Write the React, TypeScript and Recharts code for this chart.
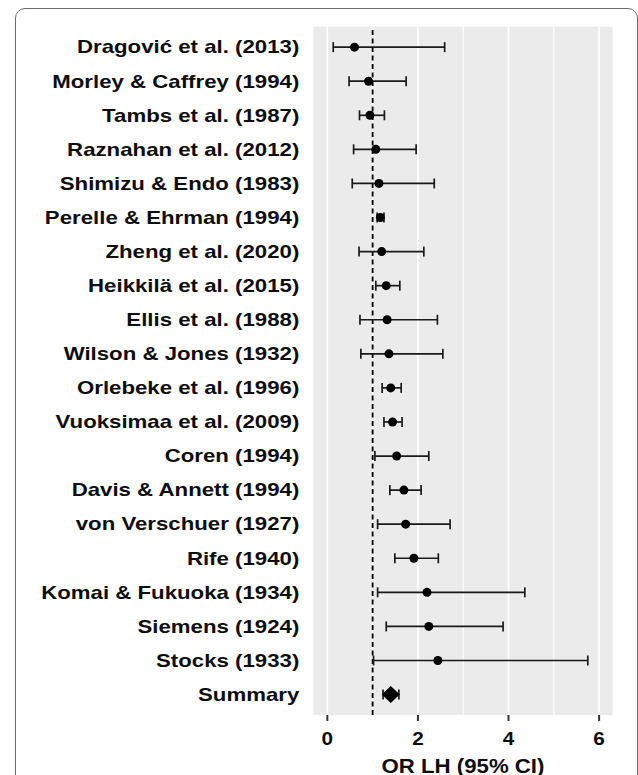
import { ScatterChart, Scatter, XAxis, YAxis, ErrorBar, CartesianGrid, ReferenceLine, Label } from 'recharts'

const studies = [
  'Dragović et al. (2013)', 'Morley & Caffrey (1994)', 'Tambs et al. (1987)', 'Raznahan et al. (2012)',
  'Shimizu & Endo (1983)', 'Perelle & Ehrman (1994)', 'Zheng et al. (2020)', 'Heikkilä et al. (2015)',
  'Ellis et al. (1988)', 'Wilson & Jones (1932)', 'Orlebeke et al. (1996)', 'Vuoksimaa et al. (2009)',
  'Coren (1994)', 'Davis & Annett (1994)', 'von Verschuer (1927)', 'Rife (1940)',
  'Komai & Fukuoka (1934)', 'Siemens (1924)', 'Stocks (1933)',
]
const orValues = [0.6, 0.91, 0.94, 1.07, 1.14, 1.17, 1.2, 1.3, 1.32, 1.36, 1.4, 1.44, 1.53, 1.69, 1.73, 1.91, 2.2, 2.24, 2.44]
const lowerCI = [0.13, 0.48, 0.71, 0.58, 0.55, 1.1, 0.7, 1.07, 0.72, 0.74, 1.21, 1.25, 1.05, 1.38, 1.11, 1.49, 1.11, 1.3, 1.02]
const upperCI = [2.59, 1.74, 1.26, 1.96, 2.36, 1.25, 2.13, 1.6, 2.43, 2.55, 1.63, 1.65, 2.24, 2.07, 2.71, 2.45, 4.36, 3.88, 5.75]

const summaryLabel = 'Summary'
const summaryOR = 1.4
const summaryLower = 1.23
const summaryUpper = 1.58

const xTicks = [0, 2, 4, 6]
const minorGrid = [1, 3, 5]
const xTitle = 'OR LH (95% CI)'

const rowLabels = [...studies, summaryLabel]
const rowTicks = rowLabels.map((_, i) => i + 1)

const studyRows = studies.map((name, i) => ({
  name,
  row: i + 1,
  or: orValues[i],
  err: [orValues[i] - lowerCI[i], upperCI[i] - orValues[i]],
}))
const summaryRows = [{
  name: summaryLabel,
  row: studies.length + 1,
  or: summaryOR,
  err: [summaryOR - summaryLower, summaryUpper - summaryOR],
}]

const FONT = '"Liberation Sans", Arial, sans-serif'

const StudyTick = ({ x, y, payload }: any) => (
  <g transform={`translate(${x},${y})`}>
    <text transform="scale(1.235,1)" textAnchor="end" dy="0.35em" fontSize={18} fontWeight="bold" fill="#0d0d0d" fontFamily={FONT}>
      {rowLabels[payload.value - 1]}
    </text>
  </g>
)

const NumberTick = ({ x, y, payload }: any) => (
  <g transform={`translate(${x},${y})`}>
    <text transform="scale(1.15,1)" textAnchor="middle" dy={16} fontSize={18} fontWeight="bold" fill="#0d0d0d" fontFamily={FONT}>
      {payload.value}
    </text>
  </g>
)

const TitleLabel = ({ viewBox }: any) => {
  const cx = viewBox.x + viewBox.width / 2
  return (
    <g transform={`translate(${cx},772.5)`}>
      <text transform="scale(1.14,1)" textAnchor="middle" fontSize={19.5} fontWeight="bold" fill="#0d0d0d" fontFamily={FONT}>
        {xTitle}
      </text>
    </g>
  )
}

const Dot = ({ cx, cy }: any) => <circle cx={cx} cy={cy} r={4.5} fill="#000" />

const Diamond = ({ cx, cy }: any) => (
  <polygon points={`${cx - 9},${cy} ${cx},${cy - 8.5} ${cx + 9},${cy} ${cx},${cy + 8.5}`} fill="#000" />
)

export default function App() {
  return (
    <div style={{ position: 'fixed', left: 0, top: 0, width: 638, height: 775, overflow: 'hidden', background: '#fff' }}>
      <div
        style={{
          position: 'absolute', left: 15, top: 8, width: 623, height: 820, boxSizing: 'border-box',
          border: '1.5px solid #6b6b6b', borderRadius: '10px 10px 0 0',
        }}
      />
      <div style={{ position: 'absolute', left: 0, top: 0 }}>
        <ScatterChart width={638} height={775} margin={{ top: 26.7, right: 25.3, bottom: 0, left: 0 }}>
          <CartesianGrid fill="#EBEBEB" horizontal={false} vertical={false} />
          {xTicks.map((v) => (
            <ReferenceLine key={`maj-${v}`} x={v} stroke="#fff" strokeWidth={1.6} />
          ))}
          {minorGrid.map((v) => (
            <ReferenceLine key={`min-${v}`} x={v} stroke="#fff" strokeWidth={1.1} />
          ))}
          <XAxis
            type="number"
            dataKey="or"
            domain={[-0.31, 6.3]}
            allowDataOverflow
            ticks={xTicks}
            interval={0}
            height={60}
            axisLine={false}
            tickLine={{ stroke: '#333', strokeWidth: 2 }}
            tickSize={6}
            tickMargin={8}
            tick={<NumberTick />}
          >
            <Label content={<TitleLabel />} />
          </XAxis>
          <YAxis
            type="number"
            dataKey="row"
            domain={[0.4, 20.6]}
            allowDataOverflow
            reversed
            ticks={rowTicks}
            interval={0}
            width={313.3}
            axisLine={false}
            tickLine={false}
            tickSize={0}
            tickMargin={14}
            tick={<StudyTick />}
          />
          <ReferenceLine x={1} stroke="#000" strokeWidth={1.8} strokeDasharray="5 3.5" />
          <Scatter data={studyRows} shape={<Dot />} isAnimationActive={false}>
            <ErrorBar dataKey="err" direction="x" width={5} stroke="#1a1a1a" strokeWidth={1.7} isAnimationActive={false} />
          </Scatter>
          <Scatter data={summaryRows} shape={<Diamond />} isAnimationActive={false}>
            <ErrorBar dataKey="err" direction="x" width={5} stroke="#1a1a1a" strokeWidth={1.7} isAnimationActive={false} />
          </Scatter>
        </ScatterChart>
      </div>
    </div>
  )
}
